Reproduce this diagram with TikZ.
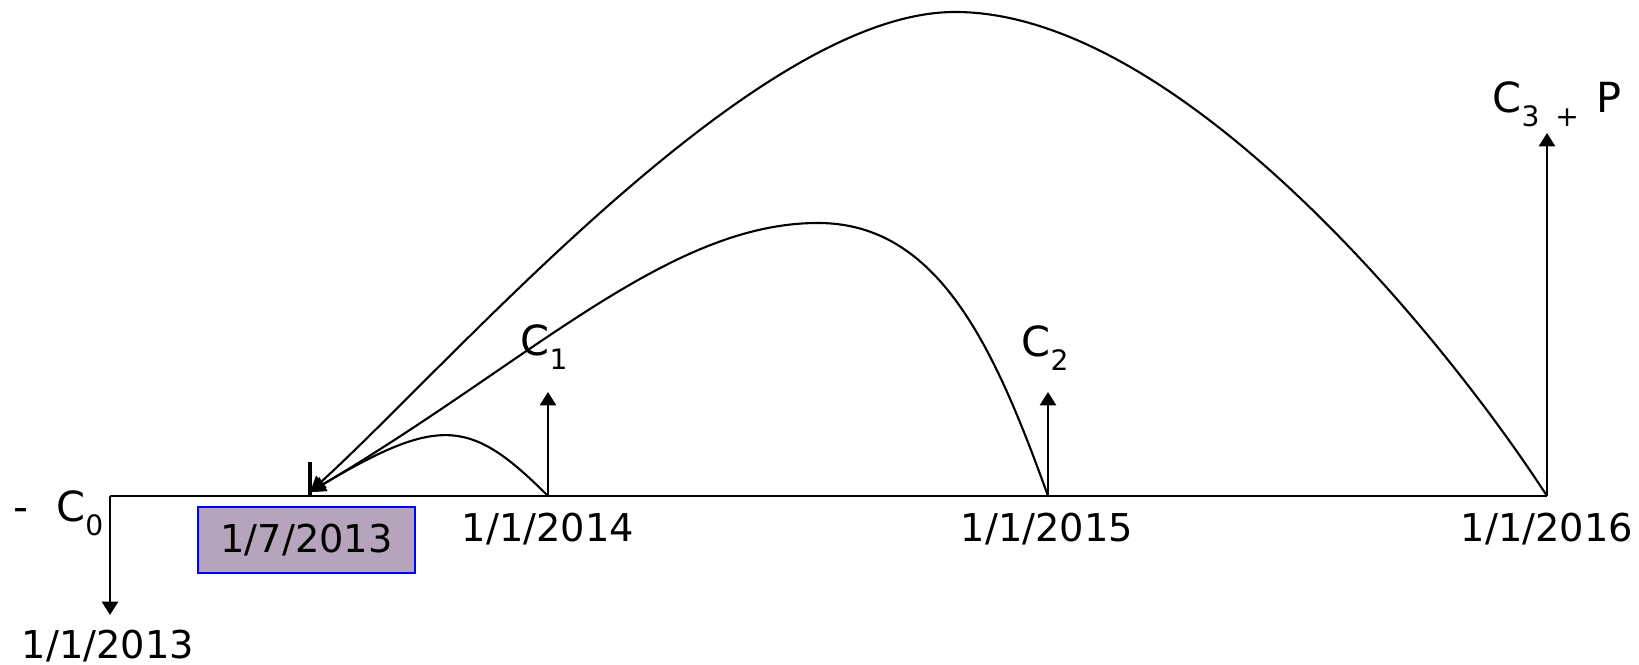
\documentclass[tikz,border=0pt]{standalone}
\usepackage{fontspec}
\setmainfont{DejaVu Sans}
\usetikzlibrary{arrows.meta}
\usepackage{xcolor}
\definecolor{boxfill}{RGB}{182,164,188}
\newcommand{\lowidx}[1]{\raisebox{-0.32em}{\fontsize{8}{9}\selectfont #1}}

\begin{document}
\begin{tikzpicture}[x=0.01cm, y=-0.01cm,
  flow/.style={line width=0.6pt, -{Triangle[length=3.8pt,width=4.6pt]}},
  back/.style={line width=0.6pt, -{Triangle[length=4.4pt,width=4.4pt]}},
  date/.style={anchor=base, inner sep=0pt, font=\fontsize{10.9}{13}\selectfont},
  cash/.style={anchor=base west, inner sep=0pt, font=\fontsize{11.8}{14}\selectfont}]
  \useasboundingbox (0,0) rectangle (1639,665);
  % time line
  \coordinate (y13) at (110,496);
  \coordinate (m13) at (310,496);
  \coordinate (y14) at (548,496);
  \coordinate (y15) at (1048,496);
  \coordinate (y16) at (1547,496);
  \coordinate (d0) at (310,492);
  \coordinate (t13) at (110,615);
  \coordinate (m13up) at (310,462);
  \coordinate (c14) at (548,392);
  \coordinate (c15) at (1048,392);
  \coordinate (c16) at (1547,133);
  \coordinate (top15) at (818,223);
  \coordinate (top16) at (955,12);
  \draw[line width=0.8pt] (y13) -- (y16);
  \draw[line width=0.9pt] (m13) -- (m13up);
  \draw[flow] (y13) -- (t13);
  \foreach \a/\b in {y14/c14, y15/c15, y16/c16} {
    \draw[flow] (\a) -- (\b);
  }
  % discounting back to 1/7/2013
  \draw[back] (y14) .. controls (471,419) and (440,415) .. (d0);
  \draw[back] (y15) .. controls (994,346) and (938,223) .. (top15)
    .. controls (668,223) and (530,362) .. (d0);
  \draw[back] (y16) .. controls (1438,328) and (1175,12) .. (top16)
    .. controls (755,12) and (455,360) .. (d0);
  % labels
  \node (p0) [anchor=base east, inner sep=0pt, font=\fontsize{11.8}{14}\selectfont] at (104,522) {-\hspace{8pt}C\lowidx{0}};
  \node (l13) [date] at (108,659) {1/1/2013};
  \node (l14) [date] at (548,542) {1/1/2014};
  \node (l15) [date] at (1047,542) {1/1/2015};
  \node (l16) [date] at (1547,542) {1/1/2016};
  \node (b13) [draw=blue, fill=boxfill, line width=0.6pt, minimum width=2.17cm, minimum height=0.66cm,
    inner sep=0pt, font=\fontsize{10.9}{13}\selectfont] at (306.5,540) {1/7/2013};
  \node (p1) [cash] at (520,356) {C\lowidx{1}};
  \node (p2) [cash] at (1021,357) {C\lowidx{2}};
  \node (p3) [cash] at (1492,113) {C\lowidx{3\hspace{4.5pt}+}\hspace{5pt}P};
\end{tikzpicture}
\end{document}
